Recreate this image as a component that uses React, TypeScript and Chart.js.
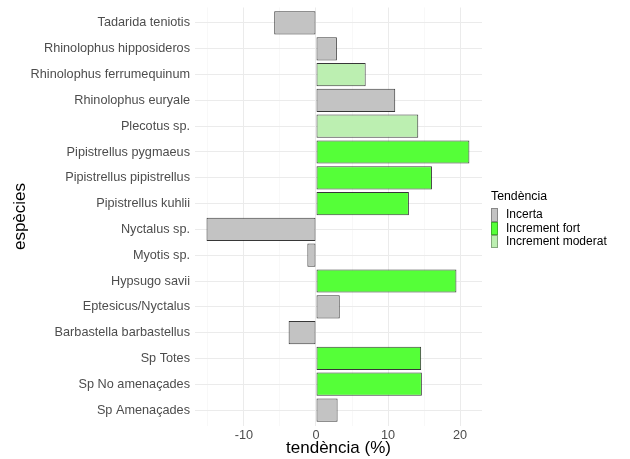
import React, { useEffect, useRef } from "react";
import { Chart, registerables } from "chart.js";

Chart.register(...registerables);

const species = [
  "Tadarida teniotis",
  "Rhinolophus hipposideros",
  "Rhinolophus ferrumequinum",
  "Rhinolophus euryale",
  "Plecotus sp.",
  "Pipistrellus pygmaeus",
  "Pipistrellus pipistrellus",
  "Pipistrellus kuhlii",
  "Nyctalus sp.",
  "Myotis sp.",
  "Hypsugo savii",
  "Eptesicus/Nyctalus",
  "Barbastella barbastellus",
  "Sp Totes",
  "Sp No amenaçades",
  "Sp Amenaçades",
];

const trendValues = [
  -5.8, 2.9, 6.9, 11.0, 14.2, 21.3, 16.1, 12.9, -15.2, -1.2, 19.5, 3.3, -3.8, 14.6, 14.7, 3.0,
];

const trendClass = [
  "Incerta",
  "Incerta",
  "Increment moderat",
  "Incerta",
  "Increment moderat",
  "Increment fort",
  "Increment fort",
  "Increment fort",
  "Incerta",
  "Incerta",
  "Increment fort",
  "Incerta",
  "Incerta",
  "Increment fort",
  "Increment fort",
  "Incerta",
];

const classNames = ["Incerta", "Increment fort", "Increment moderat"];
const classColors = ["#C3C3C3", "#55FF38", "#BCEFB1"];

const xTicks = [-15, -10, -5, 0, 5, 10, 15, 20];

const FONT = "'Liberation Sans', Arial, Helvetica, sans-serif";

export default function App() {
  const canvasRef = useRef<HTMLCanvasElement | null>(null);

  useEffect(() => {
    const canvas = canvasRef.current;
    if (!canvas) return;

    const datasets = classNames.map((cls, ci) => ({
      label: cls,
      data: species
        .map((_, i) => ({ x: trendValues[i], y: i, cls: trendClass[i] }))
        .filter((d) => d.cls === cls)
        .map((d) => ({ x: d.x, y: d.y })),
      backgroundColor: classColors[ci],
      borderColor: "rgba(20,20,20,0.85)",
      borderWidth: 1,
      borderSkipped: false as const,
      grouped: false,
      barPercentage: 0.9,
      categoryPercentage: 1,
    }));

    const chart = new Chart(canvas, {
      type: "bar",
      data: { datasets },
      options: {
        indexAxis: "y",
        animation: false,
        responsive: false,
        maintainAspectRatio: false,
        layout: { padding: { top: 0, right: 148, left: 0, bottom: 0 } },
        plugins: { legend: { display: false }, tooltip: { enabled: false } },
        scales: {
          x: {
            type: "linear",
            min: -16.8,
            max: 23.05,
            afterBuildTicks: (scale: any) => {
              scale.ticks = xTicks.map((v) => ({ value: v }));
            },
            afterFit: (scale: any) => {
              scale.height = 33.5;
            },
            ticks: {
              autoSkip: false,
              maxRotation: 0,
              padding: 2,
              color: "#4d4d4d",
              font: { family: FONT, size: 12.7 },
              callback: (v: any) => (Number(v) % 10 === 0 ? String(v) : ""),
            },
            grid: {
              drawTicks: false,
              color: (ctx: any) =>
                ctx.tick && ctx.tick.value % 10 === 0 ? "#ebebeb" : "#f3f3f3",
              lineWidth: (ctx: any) =>
                ctx.tick && ctx.tick.value % 10 === 0 ? 1 : 0.6,
            },
            border: { display: false },
            title: {
              display: true,
              text: "tendència (%)",
              color: "#000000",
              font: { family: FONT, size: 17 },
              padding: { top: 0, bottom: 0.5 },
            },
          },
          y: {
            type: "linear",
            min: -0.6,
            max: species.length - 1 + 0.6,
            reverse: true,
            offset: false,
            afterBuildTicks: (scale: any) => {
              scale.ticks = species.map((_, i) => ({ value: i }));
            },
            afterFit: (scale: any) => {
              scale.width = 195;
              scale.paddingTop = 7.5;
              scale.paddingBottom = 0;
            },
            ticks: {
              autoSkip: false,
              padding: 5,
              color: "#4d4d4d",
              font: { family: FONT, size: 12.7 },
              callback: (v: any) => species[Number(v)] ?? "",
            },
            grid: {
              offset: false,
              drawTicks: false,
              color: "#ebebeb",
              lineWidth: 1,
            },
            border: { display: false },
            title: {
              display: true,
              text: "espècies",
              color: "#000000",
              font: { family: FONT, size: 17 },
              padding: { top: 10, bottom: 0 },
            },
          },
        },
      },
    } as any);

    return () => chart.destroy();
  }, []);

  return (
    <div
      style={{
        position: "fixed",
        left: 0,
        top: 0,
        width: 630,
        height: 459,
        background: "#ffffff",
      }}
    >
      <canvas ref={canvasRef} width={630} height={459} style={{ display: "block" }} />
      <div
        style={{
          position: "absolute",
          left: 491,
          top: 189,
          fontFamily: FONT,
          fontSize: 12.3,
          color: "#000",
          lineHeight: "15px",
        }}
      >
        Tendència
      </div>
      {classNames.map((cls, i) => (
        <div
          key={cls}
          style={{
            position: "absolute",
            left: 491,
            top: 208.3 + i * 13.4,
            height: 13.4,
            display: "flex",
            alignItems: "center",
          }}
        >
          <div
            style={{
              width: 7,
              height: 13.4,
              boxSizing: "border-box",
              background: classColors[i],
              border: "1px solid rgba(0,0,0,0.3)",
            }}
          />
          <span
            style={{
              marginLeft: 8,
              fontFamily: FONT,
              fontSize: 12,
              color: "#000",
              lineHeight: "13.4px",
              whiteSpace: "nowrap",
            }}
          >
            {cls}
          </span>
        </div>
      ))}
    </div>
  );
}
